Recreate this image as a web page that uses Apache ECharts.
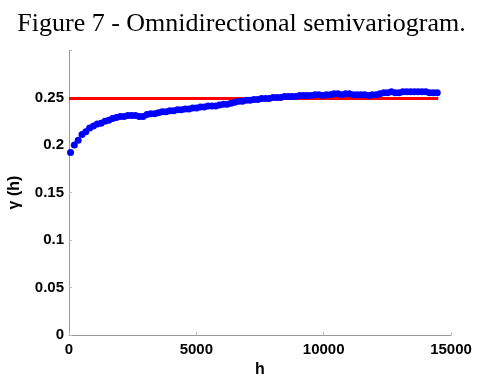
<!DOCTYPE html>
<html>
<head>
<meta charset="utf-8">
<script src="https://cdn.jsdelivr.net/npm/echarts@6/dist/echarts.min.js"></script>
<style>
  html, body { margin: 0; padding: 0; background: #fff; }
  #chart { width: 483px; height: 376px; }
</style>
</head>
<body>
<div id="chart"></div>
<script>
// lag distances (h) and experimental semivariance gamma(h)
var lagH = [
  60, 210, 360, 510, 660, 810, 960, 1110, 1260, 1410,
  1560, 1710, 1860, 2010, 2160, 2310, 2460, 2610, 2760, 2910,
  3060, 3210, 3360, 3510, 3660, 3810, 3960, 4110, 4260, 4410,
  4560, 4710, 4860, 5010, 5160, 5310, 5460, 5610, 5760, 5910,
  6060, 6210, 6360, 6510, 6660, 6810, 6960, 7110, 7260, 7410,
  7560, 7710, 7860, 8010, 8160, 8310, 8460, 8610, 8760, 8910,
  9060, 9210, 9360, 9510, 9660, 9810, 9960, 10110, 10260, 10410,
  10560, 10710, 10860, 11010, 11160, 11310, 11460, 11610, 11760, 11910,
  12060, 12210, 12360, 12510, 12660, 12810, 12960, 13110, 13260, 13410,
  13560, 13710, 13860, 14010, 14160, 14310, 14460
]
var gamma = [
  0.192, 0.200, 0.205, 0.211, 0.214, 0.218, 0.220, 0.222, 0.223, 0.225,
  0.226, 0.228, 0.229, 0.230, 0.230, 0.231, 0.231, 0.231, 0.230, 0.230,
  0.232, 0.233, 0.233, 0.234, 0.235, 0.235, 0.236, 0.236, 0.237, 0.237,
  0.238, 0.238, 0.239, 0.239, 0.240, 0.240, 0.241, 0.241, 0.241, 0.242,
  0.243, 0.243, 0.244, 0.245, 0.246, 0.246, 0.247, 0.247, 0.248, 0.248,
  0.249, 0.249, 0.249, 0.250, 0.250, 0.250, 0.251, 0.251, 0.251, 0.251,
  0.252, 0.252, 0.252, 0.252, 0.253, 0.253, 0.252, 0.253, 0.253, 0.254,
  0.254, 0.253, 0.254, 0.254, 0.253, 0.253, 0.253, 0.253, 0.252, 0.253,
  0.253, 0.254, 0.255, 0.255, 0.256, 0.255, 0.255, 0.256, 0.256, 0.256,
  0.256, 0.256, 0.256, 0.256, 0.255, 0.255, 0.255
]
// sill of the fitted model (horizontal red line)
var sillH = [0, 14500]
var sillValue = [0.249, 0.249]

var chart = echarts.init(document.getElementById('chart'))

chart.setOption({
  animation: false,
  title: {
    text: 'Figure 7 - Omnidirectional semivariogram.',
    left: 'center',
    top: 6,
    textStyle: {
      fontFamily: 'Liberation Serif',
      fontSize: 26,
      fontWeight: 'normal',
      color: '#000'
    }
  },
  grid: {
    left: 69,
    top: 50,
    width: 382,
    height: 285,
    outerBoundsMode: 'none'
  },
  xAxis: {
    type: 'value',
    min: 0,
    max: 15000,
    interval: 5000,
    name: 'h',
    nameLocation: 'middle',
    nameGap: 26,
    nameTextStyle: {
      fontFamily: 'Liberation Sans',
      fontWeight: 'bold',
      fontSize: 16,
      color: '#000'
    },
    splitLine: { show: false },
    axisLine: { lineStyle: { color: '#999', width: 1 } },
    axisTick: { inside: true, length: 3, lineStyle: { color: '#bbb' } },
    axisLabel: {
      fontFamily: 'Liberation Sans',
      fontWeight: 'bold',
      fontSize: 15,
      color: '#000',
      margin: 7,
      formatter: function (v) { return String(v) }
    }
  },
  yAxis: {
    type: 'value',
    min: 0,
    max: 0.3,
    interval: 0.05,
    name: 'γ (h)',
    nameLocation: 'middle',
    nameGap: 46,
    nameTextStyle: {
      fontFamily: 'Liberation Sans',
      fontWeight: 'bold',
      fontSize: 16,
      color: '#000'
    },
    splitLine: { show: false },
    axisLine: { show: true, lineStyle: { color: '#999', width: 1 } },
    axisTick: { show: true, inside: true, length: 3, lineStyle: { color: '#bbb' } },
    axisLabel: {
      fontFamily: 'Liberation Sans',
      fontWeight: 'bold',
      fontSize: 15,
      color: '#000',
      margin: 5,
      formatter: function (v) {
        if (v > 0.29) return ''
        return String(Math.round(v * 100) / 100)
      }
    }
  },
  series: [
    {
      name: 'sill',
      type: 'line',
      data: sillH.map(function (h, i) { return [h, sillValue[i]] }),
      symbol: 'none',
      lineStyle: { color: '#ff0000', width: 3 },
      z: 2
    },
    {
      name: 'gamma',
      type: 'scatter',
      data: lagH.map(function (h, i) { return [h, gamma[i]] }),
      symbol: 'circle',
      symbolSize: 7,
      itemStyle: { color: '#0000ff', opacity: 1 },
      z: 3
    }
  ]
})
</script>
</body>
</html>
